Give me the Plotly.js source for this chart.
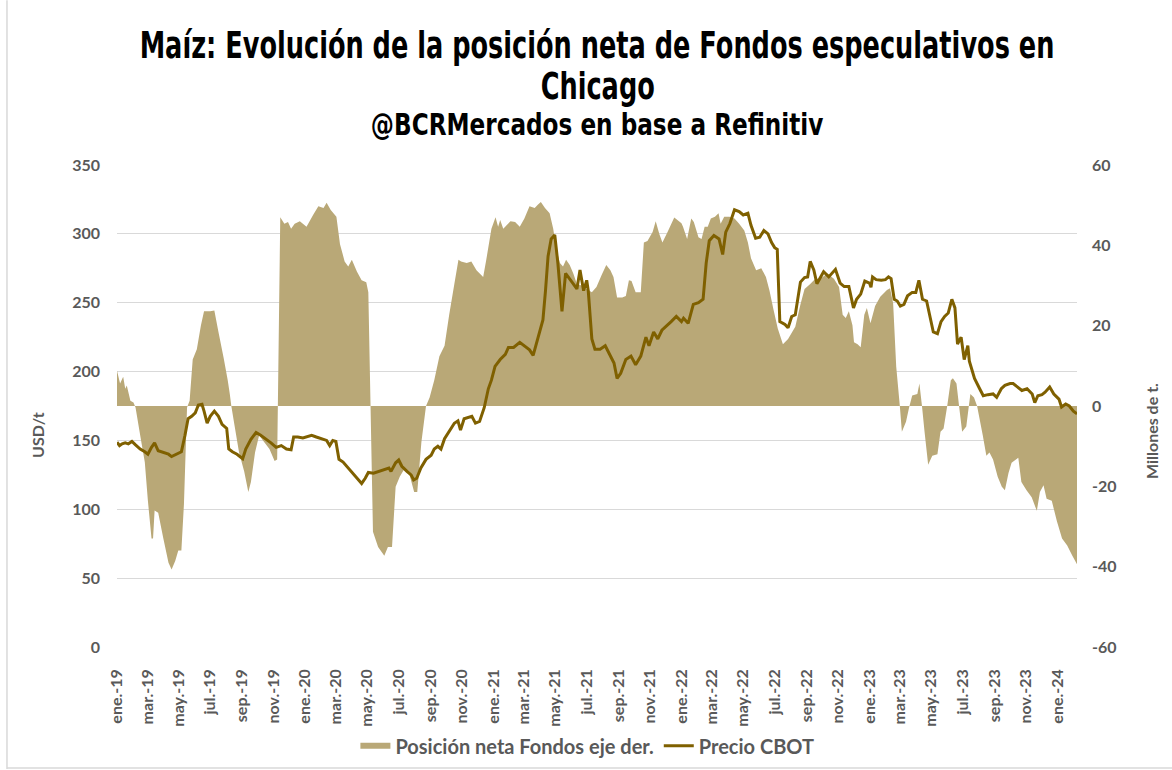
<!DOCTYPE html>
<html>
<head>
<meta charset="utf-8">
<script src="https://cdn.plot.ly/plotly-3.0.1.min.js"></script>
<style>
  html, body { margin: 0; padding: 0; background: #ffffff; }
  #chart { width: 1172px; height: 770px; }
</style>
</head>
<body>
<div id="chart"></div>
<script>
// ---- Posición neta de fondos (millones de t, eje derecho) ----
const posDates = [
"2019-01-01","2019-01-07","2019-01-13","2019-01-17","2019-01-20","2019-01-27","2019-02-02","2019-02-06","2019-02-15","2019-02-24",
"2019-03-02","2019-03-09","2019-03-12","2019-03-15","2019-03-22","2019-04-01","2019-04-11","2019-04-17","2019-04-24","2019-04-30",
"2019-05-06","2019-05-11","2019-05-17","2019-05-22","2019-05-28","2019-06-05","2019-06-13","2019-06-19","2019-07-01","2019-07-09",
"2019-07-17","2019-07-27","2019-08-04","2019-08-08","2019-08-11","2019-08-16","2019-08-26","2019-09-05","2019-09-13","2019-09-18",
"2019-09-26","2019-10-04","2019-10-14","2019-10-24","2019-11-03","2019-11-08","2019-11-14","2019-11-22","2019-11-29","2019-12-05",
"2019-12-12","2019-12-22","2020-01-04","2020-01-17","2020-01-27","2020-02-06","2020-02-12","2020-02-20","2020-03-02","2020-03-09",
"2020-03-18","2020-03-25","2020-04-01","2020-04-11","2020-04-20","2020-04-29","2020-05-03","2020-05-12","2020-05-22","2020-06-03",
"2020-06-10","2020-06-18","2020-06-25","2020-07-03","2020-07-11","2020-07-21","2020-07-31","2020-08-06","2020-08-14","2020-08-23",
"2020-08-30","2020-09-08","2020-09-18","2020-09-28","2020-10-07","2020-10-17","2020-10-25","2020-10-30","2020-11-10","2020-11-19",
"2020-11-29","2020-12-12","2020-12-18","2020-12-28","2021-01-05","2021-01-10","2021-01-14","2021-01-20","2021-02-03","2021-02-12",
"2021-02-21","2021-03-02","2021-03-12","2021-03-22","2021-03-28","2021-04-03","2021-04-11","2021-04-20","2021-04-27","2021-05-03",
"2021-05-10","2021-05-16","2021-05-22","2021-05-29","2021-06-05","2021-06-12","2021-06-21","2021-07-01","2021-07-11","2021-07-20",
"2021-07-30","2021-08-08","2021-08-16","2021-08-22","2021-08-29","2021-09-08","2021-09-15","2021-09-21","2021-09-26","2021-10-04",
"2021-10-14","2021-10-20","2021-10-27","2021-11-06","2021-11-12","2021-11-19","2021-11-25","2021-12-05","2021-12-18","2022-01-01",
"2022-01-04","2022-01-12","2022-01-20","2022-01-25","2022-02-03","2022-02-09","2022-02-15","2022-02-21","2022-02-27","2022-03-07",
"2022-03-14","2022-03-18","2022-03-25","2022-04-04","2022-04-14","2022-04-23","2022-05-03","2022-05-10","2022-05-16","2022-05-26",
"2022-06-05","2022-06-14","2022-06-21","2022-06-28","2022-07-07","2022-07-17","2022-07-27","2022-08-10","2022-08-20","2022-08-28",
"2022-09-08","2022-09-18","2022-09-28","2022-10-11","2022-10-24","2022-11-03","2022-11-10","2022-11-16","2022-11-22","2022-11-29",
"2022-12-02","2022-12-09","2022-12-15","2022-12-22","2022-12-27","2023-01-03","2023-01-12","2023-01-22","2023-02-04","2023-02-10",
"2023-02-16","2023-02-22","2023-03-01","2023-03-05","2023-03-13","2023-03-19","2023-03-25","2023-04-04","2023-04-08","2023-04-13",
"2023-04-18","2023-04-25","2023-05-03","2023-05-13","2023-05-19","2023-05-25","2023-06-01","2023-06-08","2023-06-12","2023-06-19",
"2023-06-24","2023-06-30","2023-07-08","2023-07-13","2023-07-16","2023-07-23","2023-07-29","2023-08-09","2023-08-16","2023-08-22",
"2023-08-29","2023-09-07","2023-09-15","2023-09-21","2023-09-28","2023-10-04","2023-10-17","2023-10-23","2023-11-02","2023-11-12",
"2023-11-22","2023-11-28","2023-12-05","2023-12-11","2023-12-21","2023-12-31","2024-01-10","2024-01-20","2024-01-30","2024-02-08"
];
const posValues = [
8.8,5.6,7.3,4.3,5.1,1.3,0.9,-0.4,-7.3,-14,
-23.6,-33,-33,-26,-26.6,-33,-39,-40.7,-38.6,-36,
-36,-24.4,-0.4,1.3,11.6,14.1,20.1,23.6,23.6,23.8,
18.4,12,6.4,3,0,-3.9,-11.6,-16.3,-21.4,-18.9,
-11.6,-7.3,-9,-10.7,-13.7,-13.3,47,45.4,45.8,44.1,
45.4,46,44.6,47.6,49.7,49.3,50.6,48.8,47.1,40.3,
36,34.7,36.4,33.4,31.3,30.8,28.3,-31.3,-35.1,-37.3,
-35.1,-35.1,-20.1,-17.6,-15.9,-16.7,-21.4,-21.4,-9,0,
2.1,6.4,12.4,15,22.7,30.4,36.4,36,35.6,36,
33.8,32.1,36.4,44.1,47,44.6,46.3,44.1,46,45.8,
44.6,46.7,49.7,49.3,50.1,50.8,49.3,48,44.1,39,
35.6,34.7,36.4,35.1,33,30.4,30,29.1,28.3,29.6,
32.6,35.1,33.8,32.1,27,27,27.4,31.3,31.1,28.3,
28.3,40.7,41.1,43.3,46,42.8,40.7,43.3,46.9,45.5,
44.6,41.6,46.7,45.8,42,41.6,44.6,44.6,46.7,47.1,
48,45.4,47.1,47.1,46.7,45.4,43.7,40.7,36.8,33.8,
34.3,32.1,28.7,24.4,19.3,15.4,16.7,19.7,25.3,29.1,
30.4,31.7,31.7,33,31.7,29.6,22.7,21.9,23.6,20.1,
15.9,15.4,14.6,22.7,24.4,20.6,24.9,27.2,28.9,29.3,
25.6,9.8,0,-6.4,-3.9,-0.4,2.6,3,5.6,0,
-6.4,-14.6,-12.4,-12,-6.4,-5.6,0,6.4,6.9,5.6,
0,-6.4,-5.1,0,3,2.1,0,-7.3,-12.4,-11.6,
-13.3,-17.6,-20.1,-21,-16.7,-14.1,-12.9,-18.9,-21,-22.7,
-26.1,-21.4,-19.7,-23.1,-23.6,-28.7,-33,-34.7,-37.3,-39.4
];

// ---- Precio CBOT (USD/t, eje izquierdo) ----
const priceDates = [
"2019-01-01","2019-01-06","2019-01-11","2019-01-17","2019-01-23","2019-01-30","2019-02-06","2019-02-15","2019-02-24","2019-03-02",
"2019-03-09","2019-03-15","2019-03-22","2019-04-01","2019-04-11","2019-04-17","2019-04-27","2019-05-06","2019-05-13","2019-05-19",
"2019-05-26","2019-06-02","2019-06-08","2019-06-15","2019-06-19","2019-06-25","2019-07-01","2019-07-09","2019-07-17","2019-07-24",
"2019-08-02","2019-08-06","2019-08-13","2019-08-22","2019-09-02","2019-09-08","2019-09-18","2019-09-28","2019-10-07","2019-10-17",
"2019-10-27","2019-11-06","2019-11-16","2019-11-26","2019-12-05","2019-12-10","2019-12-18","2019-12-28","2020-01-07","2020-01-14",
"2020-01-23","2020-02-03","2020-02-12","2020-02-18","2020-02-24","2020-03-01","2020-03-07","2020-03-15","2020-03-25","2020-04-04",
"2020-04-14","2020-04-20","2020-04-27","2020-05-03","2020-05-13","2020-05-23","2020-06-02","2020-06-12","2020-06-16","2020-06-25",
"2020-07-01","2020-07-07","2020-07-17","2020-07-25","2020-07-30","2020-08-05","2020-08-13","2020-08-23","2020-09-02","2020-09-08",
"2020-09-15","2020-09-21","2020-09-28","2020-10-07","2020-10-17","2020-10-24","2020-10-29","2020-11-05","2020-11-13","2020-11-20",
"2020-11-27","2020-12-05","2020-12-14","2020-12-22","2020-12-28","2021-01-04","2021-01-14","2021-01-24","2021-01-30","2021-02-09",
"2021-02-21","2021-03-02","2021-03-12","2021-03-19","2021-03-28","2021-04-07","2021-04-12","2021-04-17","2021-04-23","2021-04-30",
"2021-05-06","2021-05-11","2021-05-14","2021-05-21","2021-05-29","2021-06-05","2021-06-12","2021-06-18","2021-06-25","2021-07-01",
"2021-07-04","2021-07-11","2021-07-17","2021-07-27","2021-08-06","2021-08-16","2021-08-23","2021-08-29","2021-09-05","2021-09-15",
"2021-09-25","2021-10-04","2021-10-14","2021-10-24","2021-10-30","2021-11-08","2021-11-16","2021-11-24","2021-12-02","2021-12-12",
"2021-12-22","2022-01-01","2022-01-05","2022-01-14","2022-01-24","2022-02-03","2022-02-12","2022-02-18","2022-02-24","2022-03-05",
"2022-03-15","2022-03-22","2022-03-28","2022-04-05","2022-04-14","2022-04-23","2022-05-01","2022-05-10","2022-05-16","2022-05-25",
"2022-06-02","2022-06-10","2022-06-18","2022-06-25","2022-07-01","2022-07-06","2022-07-11","2022-07-21","2022-07-27","2022-08-03",
"2022-08-10","2022-08-20","2022-08-28","2022-09-03","2022-09-08","2022-09-15","2022-09-21","2022-09-28","2022-10-04","2022-10-14",
"2022-10-20","2022-10-27","2022-11-05","2022-11-13","2022-11-22","2022-12-01","2022-12-07","2022-12-15","2022-12-23","2023-01-01",
"2023-01-04","2023-01-07","2023-01-14","2023-01-24","2023-02-01","2023-02-07","2023-02-12","2023-02-18","2023-02-24","2023-03-02",
"2023-03-09","2023-03-16","2023-03-25","2023-04-01","2023-04-07","2023-04-14","2023-04-22","2023-04-29","2023-05-05","2023-05-13",
"2023-05-20","2023-05-27","2023-06-03","2023-06-10","2023-06-16","2023-06-21","2023-06-28","2023-07-04","2023-07-11","2023-07-14",
"2023-07-24","2023-08-03","2023-08-10","2023-08-19","2023-08-29","2023-09-05","2023-09-14","2023-09-21","2023-10-01","2023-10-07",
"2023-10-14","2023-10-24","2023-11-03","2023-11-13","2023-11-18","2023-11-24","2023-12-02","2023-12-08","2023-12-17","2023-12-25",
"2024-01-04","2024-01-09","2024-01-17","2024-01-24","2024-02-01","2024-02-08"
];
const priceValues = [
148.75,146.25,147.5,148.25,147.5,149.25,146.75,143.75,141.75,140,
145,148.25,142.5,141.25,140,138.25,140,141.75,153.75,165.75,
167.5,170,175.75,176.25,171.25,162.5,167.5,171.25,167.5,161.75,
158.75,143.75,141.75,140,136.75,143.75,150.75,155.75,153.75,151.25,
148.25,145,146.25,143.75,143.25,152.5,152.5,151.75,153,153.75,
152.5,151.25,150,146.25,150,149.25,136.25,134.25,130,126.25,
121.25,118.75,122.5,126.75,126.25,127.5,129.25,130,127.5,133.75,
135.75,131.25,127.5,125,121.25,122.5,130,136.25,139.25,143.75,
145.75,143.75,151.25,156.25,162.5,164.25,157.5,165.75,166.75,167.5,
162.5,163.75,173.75,187.5,193.75,203.75,208.75,212.5,217.5,217.5,
221.25,218.75,215.75,211.75,223.75,237.5,258.75,283.75,296.25,299.25,
278.75,256.25,243.75,271.25,267.5,263.75,260,273.75,258.75,266.25,
258.75,223.75,216.25,216.25,218.75,211.25,206.25,195,198.75,208.75,
211.25,205,211.25,225,218.75,228.75,223.75,230,232.5,236.25,
240,236.25,238.75,235,248.75,250,252.5,278.75,295,298.75,
296.25,285,301.25,307.5,317.5,316.25,313.75,315,306.25,296.75,
297.5,302.5,300,293.75,290,288.75,236.25,234.25,231.75,240,
241.25,265,268.25,268.75,280,273.75,263.75,268.75,272.5,268.75,
271.25,274.25,264.25,261.75,261.75,246.25,252.5,256.25,265.75,264.25,
261.25,268.75,266.75,266.25,266.75,268.75,267.5,252.5,251.25,247.5,
248.75,255,257.5,257.5,266.25,252.5,251.25,240,228.75,227.5,
236.25,240,242.5,252.5,246.25,220,225,208.75,218.75,207.5,
195,187.5,182.5,183.25,183.75,181.25,187.5,190,191.25,191.25,
189.25,186.25,187.5,183.75,177.5,182.5,183.25,185,188.75,183.75,
180,174.25,176.5,175,171.25,169.25
];

// ---- Etiquetas de los ejes ----
const tickDates = [
"2019-01-01","2019-03-01","2019-05-01","2019-07-01","2019-09-01","2019-11-01",
"2020-01-01","2020-03-01","2020-05-01","2020-07-01","2020-09-01","2020-11-01",
"2021-01-01","2021-03-01","2021-05-01","2021-07-01","2021-09-01","2021-11-01",
"2022-01-01","2022-03-01","2022-05-01","2022-07-01","2022-09-01","2022-11-01",
"2023-01-01","2023-03-01","2023-05-01","2023-07-01","2023-09-01","2023-11-01",
"2024-01-01"
];
const tickLabels = [
"ene.-19","mar.-19","may.-19","jul.-19","sep.-19","nov.-19",
"ene.-20","mar.-20","may.-20","jul.-20","sep.-20","nov.-20",
"ene.-21","mar.-21","may.-21","jul.-21","sep.-21","nov.-21",
"ene.-22","mar.-22","may.-22","jul.-22","sep.-22","nov.-22",
"ene.-23","mar.-23","may.-23","jul.-23","sep.-23","nov.-23",
"ene.-24"
];
const leftTicks = [0,50,100,150,200,250,300,350];
const rightTicks = [-60,-40,-20,0,20,40,60];
const rightTickLabels = ["-60","-40","-20","0","20","40","60"];

const gray = "#595959";
const labelFamily = "Lato, 'Open Sans', sans-serif";
const tickFont = {family: labelFamily, size: 16, color: gray, weight: 700};
const titleFont = {family: "'DejaVu Sans', sans-serif", size: 38, color: "#000000", weight: 700};
const subFont = {family: "'DejaVu Sans', sans-serif", size: 30, color: "#000000", weight: 700};

const traces = [
  {
    type: "scatter",
    x: posDates,
    y: posValues,
    yaxis: "y",
    mode: "none",
    fill: "tozeroy",
    fillcolor: "#B9A877",
    name: "Posición neta Fondos eje der.",
    hoverinfo: "x+y"
  },
  {
    type: "scatter",
    x: priceDates,
    y: priceValues,
    yaxis: "y2",
    mode: "lines",
    line: {color: "#7F6000", width: 3},
    name: "Precio CBOT",
    hoverinfo: "x+y"
  }
];

const layout = {
  width: 1172,
  height: 770,
  paper_bgcolor: "#ffffff",
  plot_bgcolor: "#ffffff",
  margin: {l: 117, r: 95, t: 165, b: 123, autoexpand: false},
  showlegend: true,
  legend: {
    orientation: "h",
    x: 0.49, xanchor: "center",
    y: -0.205, yanchor: "middle",
    font: {family: labelFamily, size: 20, color: gray, weight: 700},
    traceorder: "normal"
  },
  xaxis: {
    type: "date",
    range: ["2019-01-01", "2024-02-08"],
    tickmode: "array",
    tickvals: tickDates,
    ticktext: tickLabels,
    tickangle: -90,
    tickfont: tickFont,
    ticks: "",
    ticklabelstandoff: 18,
    showgrid: false,
    zeroline: false,
    showline: false,
    fixedrange: true
  },
  // Eje derecho: posición neta (millones de t)
  yaxis: {
    side: "right",
    range: [-60, 60],
    tickmode: "array",
    tickvals: rightTicks,
    ticktext: rightTickLabels,
    tickfont: tickFont,
    ticks: "",
    ticklabelstandoff: 14,
    showgrid: false,
    zeroline: false,
    showline: false,
    fixedrange: true
  },
  // Eje izquierdo: precio (USD/t)
  yaxis2: {
    overlaying: "y",
    side: "left",
    range: [0, 350],
    tickmode: "array",
    tickvals: leftTicks,
    tickfont: tickFont,
    ticks: "",
    ticklabelstandoff: 16,
    showgrid: true,
    gridcolor: "#D9D9D9",
    gridwidth: 1,
    zeroline: false,
    showline: false,
    fixedrange: true
  },
  annotations: [
    {xref: "paper", yref: "paper", x: 0.5, y: 1.249, xanchor: "center", yanchor: "middle",
     text: "Maíz: Evolución de la posición neta de Fondos especulativos en", showarrow: false, font: titleFont},
    {xref: "paper", yref: "paper", x: 0.5, y: 1.164, xanchor: "center", yanchor: "middle",
     text: "Chicago", showarrow: false, font: titleFont},
    {xref: "paper", yref: "paper", x: 0.5, y: 1.085, xanchor: "center", yanchor: "middle",
     text: "@BCRMercados en base a Refinitiv", showarrow: false, font: subFont},
    {xref: "paper", yref: "paper", x: -0.0823, y: 0.44, xanchor: "center", yanchor: "middle",
     text: "USD/t", textangle: -90, showarrow: false, font: {family: labelFamily, size: 16, color: gray, weight: 700}},
    {xref: "paper", yref: "paper", x: 1.0771, y: 0.448, xanchor: "center", yanchor: "middle",
     text: "Millones de t.", textangle: -90, showarrow: false, font: {family: labelFamily, size: 16, color: gray, weight: 700}}
  ],
  shapes: [
    {type: "line", xref: "paper", yref: "paper", x0: -0.1146, x1: -0.1146, y0: -0.253, y1: 1.342,
     line: {color: "#D9D9D9", width: 1.5}},
    {type: "line", xref: "paper", yref: "paper", x0: -0.1146, x1: 1.1, y0: -0.251, y1: -0.251,
     line: {color: "#D9D9D9", width: 1.5}}
  ]
};

// The reference title uses a condensed bold face; no condensed font is installed,
// so the title texts are narrowed horizontally (they stay real text).
function condense(gd, index, scale) {
  const el = gd.querySelector('g.annotation[data-index="' + index + '"] text.annotation-text');
  if (!el) return;
  el.style.transformBox = "fill-box";
  el.style.transformOrigin = "50% 50%";
  el.style.transform = "scaleX(" + scale + ")";
}
function widthOf(gd, index) {
  const el = gd.querySelector('g.annotation[data-index="' + index + '"] text.annotation-text');
  return el ? el.getBBox().width : 0;
}

Plotly.newPlot("chart", traces, layout, {displayModeBar: false, staticPlot: true}).then(function (gd) {
  const w0 = widthOf(gd, 0);
  const w2 = widthOf(gd, 2);
  if (w0 > 0) {
    const s = 915 / w0;
    condense(gd, 0, s);
    condense(gd, 1, s);
  }
  if (w2 > 0) condense(gd, 2, 453 / w2);
});
</script>
</body>
</html>
